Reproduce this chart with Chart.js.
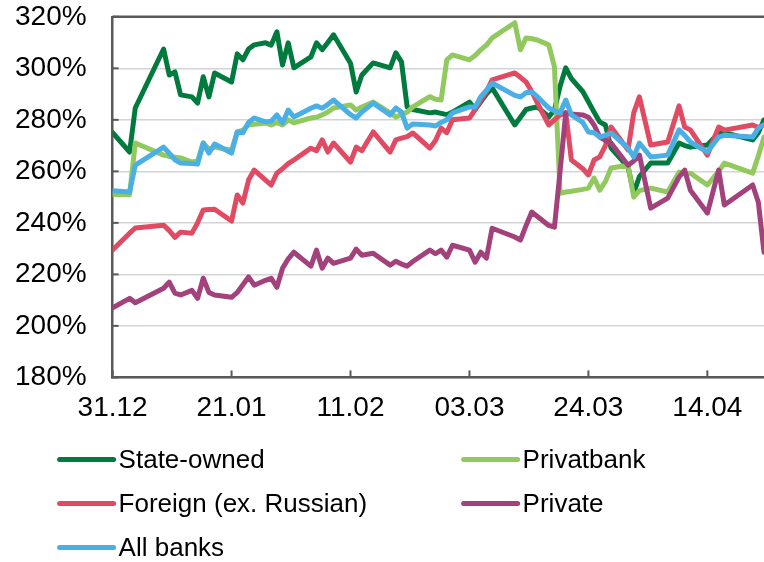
<!DOCTYPE html>
<html>
<head>
<meta charset="utf-8">
<script src="https://cdn.jsdelivr.net/npm/chart.js@4.4.1/dist/chart.umd.min.js"></script>
<style>
  html, body { margin: 0; padding: 0; background: #fff; }
</style>
</head>
<body>
<canvas id="ratioChart" width="764" height="562"></canvas>
<script>
// days after 31.12.2015
const days = [0, 3, 4, 9, 10, 11, 12, 14, 15, 16, 17, 18, 21, 22, 23, 24, 25, 27, 28, 29,
  30, 31, 32, 35, 36, 37, 38, 39, 42, 43, 44, 46, 49, 50, 51, 52, 53, 56, 57, 58,
  59, 60, 63, 64, 65, 66, 67, 71, 72, 73, 74, 75, 77, 78, 79, 80, 81, 83, 84, 85,
  86, 87, 88, 91, 92, 93, 95, 98, 100, 101, 102, 105, 107, 108, 113, 114, 115];

const stateOwned = [275, 267.5, 284.6, 307.5, 297.4, 298.6, 289.7, 288.9, 286.5, 296.7,
  288.9, 298.2, 294.7, 305.6, 303.3, 307.5, 309.1, 309.9, 309, 314.2,
  301.3, 309.9, 300.2, 304.4, 309.9, 307.2, 310, 313, 302, 290.8,
  297.4, 302.1, 300.2, 306, 302.5, 285, 284, 282.7, 283, 282.5,
  282, 283, 286.9, 284, 287, 290, 292.4, 278, 281, 284,
  284.6, 285, 281.1, 283.8, 293, 300.2, 296, 291, 287, 283,
  279.2, 278, 269, 261.7, 251.5, 258, 263.2, 263.2, 271, 270,
  269.4, 270.2, 274.9, 275, 272.2, 275, 280];

const privatbank = [251, 251, 271, 266.3, 265.8, 265.5, 265.2, 263.6, 264, 271,
  268.5, 269.4, 268.2, 275.3, 276, 278, 278.3, 278.8, 278, 279,
  278, 280, 278.8, 280.7, 281, 281.9, 283, 284.6, 285.8, 283.8,
  285, 286.9, 282.7, 281.1, 282, 283, 285, 289, 288, 287.7,
  303.3, 305.2, 303.3, 305, 307.2, 309, 311.8, 317.7, 307.2, 311.8,
  311.5, 311, 309.1, 300.6, 251.5, 252, 252.3, 253, 253.5, 257.4,
  252.7, 256, 261.3, 262.4, 250, 252.5, 253.5, 252, 259.7, 259,
  259.3, 254.7, 260, 263.2, 259.3, 266, 273.3];

const foreign = [229.5, 236, 238, 239.1, 237, 234.4, 236.4, 236, 240, 245,
  245.2, 245.3, 240.7, 250.8, 247.7, 256.6, 260.5, 256.6, 254.7, 259.3,
  261, 263, 264.4, 269, 268, 272.2, 267.5, 271, 263.6, 269.4,
  268, 275.3, 267.5, 272.2, 272.9, 273.5, 274.9, 269, 272, 276.8,
  275, 280, 280.7, 284, 287.7, 291, 295.5, 298.2, 296.5, 294.7,
  291, 286.5, 278, 280, 281.9, 282.7, 264.4, 261, 258.6, 264.4,
  265.6, 270, 277.2, 268.3, 282.7, 288.9, 270.2, 271.4, 285.4, 277.2,
  276.1, 266.3, 277.2, 276, 278, 277, 278];

const privateBanks = [207, 210.7, 209, 214.6, 217, 212.7, 212, 213.8, 210.7, 218.5,
  213, 212, 211.1, 213, 216, 219, 215.8, 217.7, 218.5, 215,
  222.4, 226, 228.6, 223.2, 229.4, 222.4, 226.3, 224.3, 226.3, 229.8,
  227.4, 228.2, 223.6, 225.1, 224, 223.2, 225, 229.4, 228, 229.4,
  226.7, 231.3, 229.4, 224.7, 228.6, 226.3, 237.9, 234.5, 233.3, 239,
  244.2, 242.5, 239, 238.3, 260, 282.7, 282.3, 281.9, 281, 278,
  273.3, 272, 271, 262.4, 264, 266.3, 245.7, 249.6, 257.8, 260.5,
  252.7, 243.8, 260.5, 246.9, 254.7, 248, 228.6];

const allBanks = [252.5, 252, 262.4, 269.4, 267, 264.5, 263.2, 263, 262.8, 271,
  267.1, 270.6, 267.1, 275.3, 275, 279, 280.7, 279.2, 279.5, 281.9,
  278.8, 283.8, 281.1, 284.5, 285.4, 284.5, 286, 287.7, 282, 280.7,
  283, 286.5, 281.9, 284.6, 283, 276.8, 278.4, 278, 277.6, 279,
  280, 282.7, 285, 285, 289, 291.5, 294.3, 289.5, 288.9, 290.5,
  290.8, 289, 284.6, 283.5, 282.7, 287.7, 281.9, 279, 275.3, 275,
  273.3, 274, 274.9, 269, 265.6, 271, 265.6, 266.3, 276.1, 274,
  271.4, 267.5, 273.3, 274, 273.3, 276.8, 278];

const seriesNames = ['State-owned', 'Privatbank', 'Foreign (ex. Russian)', 'Private', 'All banks'];
const seriesColors = ['#007a3d', '#92c95f', '#e04a62', '#a3417d', '#4aafe5'];
const xTickLabels = ['31.12', '21.01', '11.02', '03.03', '24.03', '14.04'];
const xStep = 21;

const FONT = '"Liberation Sans", Arial, sans-serif';
Chart.defaults.font.family = FONT;
Chart.defaults.font.size = 28;
Chart.defaults.color = '#000';

const allSeries = [stateOwned, privatbank, foreign, privateBanks, allBanks];

const datasets = allSeries.map((vals, i) => ({
  label: seriesNames[i],
  data: vals.map((v, k) => ({ x: days[k], y: v })),
  borderColor: seriesColors[i],
  backgroundColor: seriesColors[i],
  borderWidth: 5,
  pointRadius: 0,
  tension: 0,
  fill: false,
  borderJoinStyle: 'round',
  borderCapStyle: 'round',
  order: allSeries.length - i
}));

// frame on top, inner tick marks and a two-column legend
const framePlugin = {
  id: 'framePlugin',
  afterDraw(chart) {
    const { ctx, chartArea: a, scales } = chart;
    ctx.save();
    ctx.strokeStyle = '#595959';
    ctx.lineWidth = 2.5;
    ctx.beginPath();
    ctx.moveTo(a.left, a.top);
    ctx.lineTo(a.right, a.top);
    ctx.stroke();

    ctx.lineWidth = 2;
    scales.y.ticks.forEach(t => {
      const y = scales.y.getPixelForValue(t.value);
      ctx.beginPath();
      ctx.moveTo(a.left, y);
      ctx.lineTo(a.left + 6, y);
      ctx.stroke();
    });
    scales.x.ticks.forEach(t => {
      const x = scales.x.getPixelForValue(t.value);
      ctx.beginPath();
      ctx.moveTo(x, a.bottom);
      ctx.lineTo(x, a.bottom - 7);
      ctx.stroke();
    });

    // legend
    ctx.font = '26px ' + FONT;
    ctx.textBaseline = 'middle';
    ctx.textAlign = 'left';
    ctx.lineCap = 'round';
    chart.data.datasets.forEach((ds, i) => {
      const col = i % 2, row = Math.floor(i / 2);
      const x0 = a.left - 53 + col * 404;
      const y0 = a.bottom + 82 + row * 44;
      ctx.strokeStyle = ds.borderColor;
      ctx.lineWidth = 5;
      ctx.beginPath();
      ctx.moveTo(x0, y0);
      ctx.lineTo(x0 + 54, y0);
      ctx.stroke();
      ctx.fillStyle = '#000';
      ctx.fillText(ds.label, x0 + 59, y0 + 1);
    });
    ctx.restore();
  }
};

new Chart(document.getElementById('ratioChart'), {
  type: 'line',
  data: { datasets },
  options: {
    responsive: false,
    animation: false,
    layout: { padding: { left: 15, top: 0, right: 0, bottom: 123 } },
    plugins: {
      legend: { display: false },
      tooltip: { enabled: false }
    },
    scales: {
      x: {
        type: 'linear',
        min: 0,
        max: 115,
        grid: { color: 'rgba(0,0,0,0)', drawTicks: false },
        border: { display: true, color: '#595959', width: 2.5 },
        ticks: {
          stepSize: xStep,
          includeBounds: false,
          padding: 14,
          maxRotation: 0,
          autoSkip: false,
          callback: v => xTickLabels[Math.round(v / xStep)] || ''
        }
      },
      y: {
        min: 180,
        max: 320,
        grid: { color: '#d4d4d4', lineWidth: 1.5, drawTicks: true, tickLength: 26, tickColor: 'rgba(0,0,0,0)' },
        border: { display: true, color: '#595959', width: 2.5 },
        ticks: {
          stepSize: 20,
          padding: 0,
          callback: v => v + '%'
        }
      }
    }
  },
  plugins: [framePlugin]
});
</script>
</body>
</html>
